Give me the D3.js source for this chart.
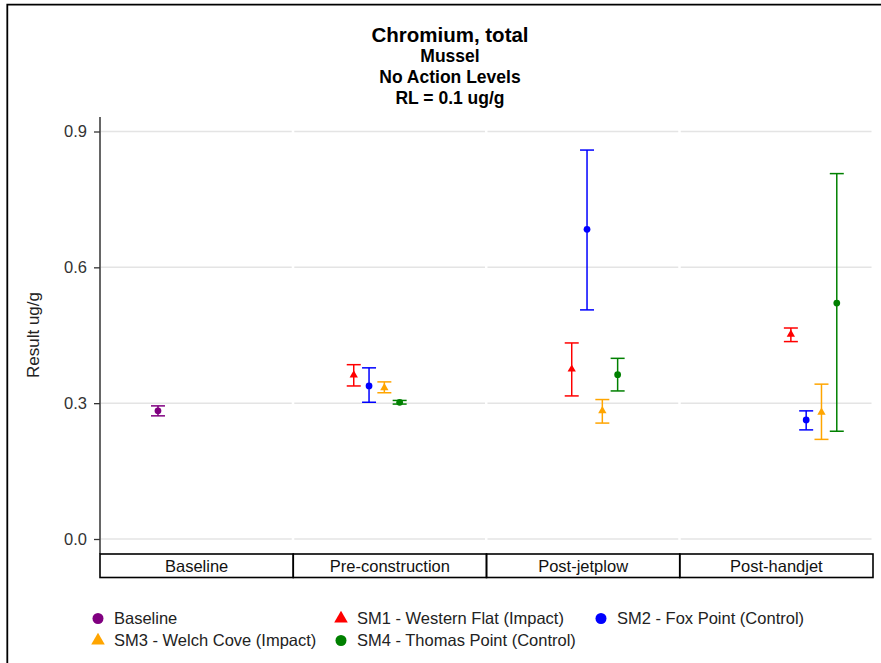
<!DOCTYPE html>
<html>
<head>
<meta charset="utf-8">
<script src="https://cdn.jsdelivr.net/npm/d3@7"></script>
<style>
  html, body { margin: 0; padding: 0; background: #fff; }
  svg { display: block; }
  text { font-family: "Liberation Sans", Arial, sans-serif; }
</style>
</head>
<body>
<svg id="chart" width="881" height="663"></svg>
<script>
// Sampling periods shown along the x axis
const categories = ["Baseline", "Pre-construction", "Post-jetplow", "Post-handjet"];

// Station series, in legend order
const seriesNames = [
  "Baseline",
  "SM1 - Western Flat (Impact)",
  "SM2 - Fox Point (Control)",
  "SM3 - Welch Cove (Impact)",
  "SM4 - Thomas Point (Control)"
];

// Mean result and error-bar limits (ug/g) per period; null = not sampled
const baselineMean = [0.283, null, null, null];
const baselineLow  = [0.272, null, null, null];
const baselineHigh = [0.294, null, null, null];

const sm1Mean = [null, 0.362, 0.375, 0.452];
const sm1Low  = [null, 0.338, 0.316, 0.436];
const sm1High = [null, 0.385, 0.433, 0.466];

const sm2Mean = [null, 0.338, 0.684, 0.263];
const sm2Low  = [null, 0.302, 0.506, 0.241];
const sm2High = [null, 0.378, 0.859, 0.283];

const sm3Mean = [null, 0.334, 0.283, 0.280];
const sm3Low  = [null, 0.323, 0.256, 0.220];
const sm3High = [null, 0.347, 0.308, 0.342];

const sm4Mean = [null, 0.302, 0.363, 0.521];
const sm4Low  = [null, 0.298, 0.327, 0.238];
const sm4High = [null, 0.306, 0.399, 0.807];

const yTicks = [0.0, 0.3, 0.6, 0.9];

const titleLines = ["Chromium, total", "Mussel", "No Action Levels", "RL = 0.1 ug/g"];
const yLabel = "Result ug/g";

// ---- styling / layout ----
const seriesColor = ["#800080", "#ff0000", "#0000ff", "#ffa500", "#008000"];
const seriesShape = ["circle", "triangle", "circle", "triangle", "circle"];
// slot of each series inside a period cluster
const seriesSlot = [0, 0, 1, 2, 3];

const seriesData = [
  [baselineMean, baselineLow, baselineHigh],
  [sm1Mean, sm1Low, sm1High],
  [sm2Mean, sm2Low, sm2High],
  [sm3Mean, sm3Low, sm3High],
  [sm4Mean, sm4Low, sm4High]
];

const plot = { left: 100, right: 873, top: 117, bottom: 554 };
const bandBoxH = 23.5;
// where each period's cluster begins, as a fraction of the band, and slot step
const clusterStart = [0.300, 0.313, 0.441, 0.575];
const slotStep = 0.0792;

const svg = d3.select("#chart");

// outer frame (top and left edges)
svg.append("path")
  .attr("d", "M7.3,663V4.6H881")
  .attr("fill", "none")
  .attr("stroke", "#000")
  .attr("stroke-width", 1.8);

// titles
const titleG = svg.append("g").attr("text-anchor", "middle");
const titleY = [41.5, 61.5, 83, 103.5];
titleLines.forEach((t, i) => {
  titleG.append("text")
    .attr("x", 450)
    .attr("y", titleY[i])
    .attr("font-size", i === 0 ? 20.5 : 17.5)
    .attr("font-weight", "bold")
    .attr("fill", "#000")
    .text(t);
});

const x = d3.scaleBand().domain(categories).range([plot.left, plot.right]).padding(0);
const y = d3.scaleLinear().domain([0, 0.9]).range([539, 131.5]);

// grid lines, broken at each period boundary
const gridG = svg.append("g");
categories.forEach(c => {
  const x0 = x(c) + 1, x1 = x(c) + x.bandwidth() - 1.5;
  yTicks.forEach(t => {
    gridG.append("line")
      .attr("x1", x0).attr("x2", x1)
      .attr("y1", y(t)).attr("y2", y(t))
      .attr("stroke", "#e4e4e4")
      .attr("stroke-width", 1.5);
  });
});

// y axis
const yAxis = d3.axisLeft(y)
  .tickValues(yTicks)
  .tickFormat(d3.format(".1f"))
  .tickSize(6)
  .tickPadding(7);
const yAxisG = svg.append("g")
  .attr("transform", `translate(${plot.left},0)`)
  .call(yAxis);
yAxisG.select(".domain").remove();
yAxisG.selectAll(".tick line").attr("stroke", "#333").attr("stroke-width", 1.3);
yAxisG.selectAll(".tick text")
  .attr("font-family", "'Liberation Sans', Arial, sans-serif")
  .attr("font-size", 16.5)
  .attr("fill", "#333");
svg.append("line")
  .attr("x1", plot.left).attr("x2", plot.left)
  .attr("y1", plot.top).attr("y2", plot.bottom)
  .attr("stroke", "#333").attr("stroke-width", 1.5);

// y axis title
svg.append("text")
  .attr("transform", `translate(39,${(plot.top + plot.bottom) / 2 - 0.5}) rotate(-90)`)
  .attr("text-anchor", "middle")
  .attr("font-size", 17)
  .attr("fill", "#222")
  .text(yLabel);

// period boxes under the plot
const boxG = svg.append("g");
categories.forEach(c => {
  boxG.append("rect")
    .attr("x", x(c)).attr("y", plot.bottom)
    .attr("width", x.bandwidth()).attr("height", bandBoxH)
    .attr("fill", "none").attr("stroke", "#000").attr("stroke-width", 1.6);
  boxG.append("text")
    .attr("x", x(c) + x.bandwidth() / 2)
    .attr("y", plot.bottom + bandBoxH / 2)
    .attr("dy", "0.36em")
    .attr("text-anchor", "middle")
    .attr("font-size", 16.5)
    .attr("fill", "#111")
    .text(c);
});

// error bars and markers
const capHalf = 7;
const markG = svg.append("g");
function symbolPath(shape, size) {
  return d3.symbol().type(shape === "triangle" ? d3.symbolTriangle : d3.symbolCircle).size(size)();
}
seriesData.forEach((arrs, s) => {
  const [mean, lo, hi] = arrs;
  categories.forEach((c, ci) => {
    if (mean[ci] == null) return;
    const cx = x(c) + x.bandwidth() * (clusterStart[ci] + slotStep * seriesSlot[s]);
    const g = markG.append("g").attr("stroke", seriesColor[s]).attr("fill", seriesColor[s]);
    g.append("line")
      .attr("x1", cx).attr("x2", cx)
      .attr("y1", y(hi[ci])).attr("y2", y(lo[ci]))
      .attr("stroke-width", 1.5);
    [hi[ci], lo[ci]].forEach(v => {
      g.append("line")
        .attr("x1", cx - capHalf).attr("x2", cx + capHalf)
        .attr("y1", y(v)).attr("y2", y(v))
        .attr("stroke-width", 1.5);
    });
    g.append("path")
      .attr("transform", `translate(${cx},${y(mean[ci])})`)
      .attr("d", symbolPath(seriesShape[s], seriesShape[s] === "triangle" ? 30 : 36))
      .attr("stroke", "none");
  });
});

// legend
const legendCols = [98, 341, 601];
const legendRows = [618.5, 640.5];
const legendG = svg.append("g");
seriesNames.forEach((name, i) => {
  const col = i % 3, row = Math.floor(i / 3);
  const lx = legendCols[col], ly = legendRows[row];
  legendG.append("path")
    .attr("transform", `translate(${lx},${ly})`)
    .attr("d", symbolPath(seriesShape[i], seriesShape[i] === "triangle" ? 80 : 95))
    .attr("fill", seriesColor[i]);
  legendG.append("text")
    .attr("x", lx + 16)
    .attr("y", ly)
    .attr("dy", "0.36em")
    .attr("font-size", 16.5)
    .attr("fill", "#222")
    .text(name);
});
</script>
</body>
</html>
